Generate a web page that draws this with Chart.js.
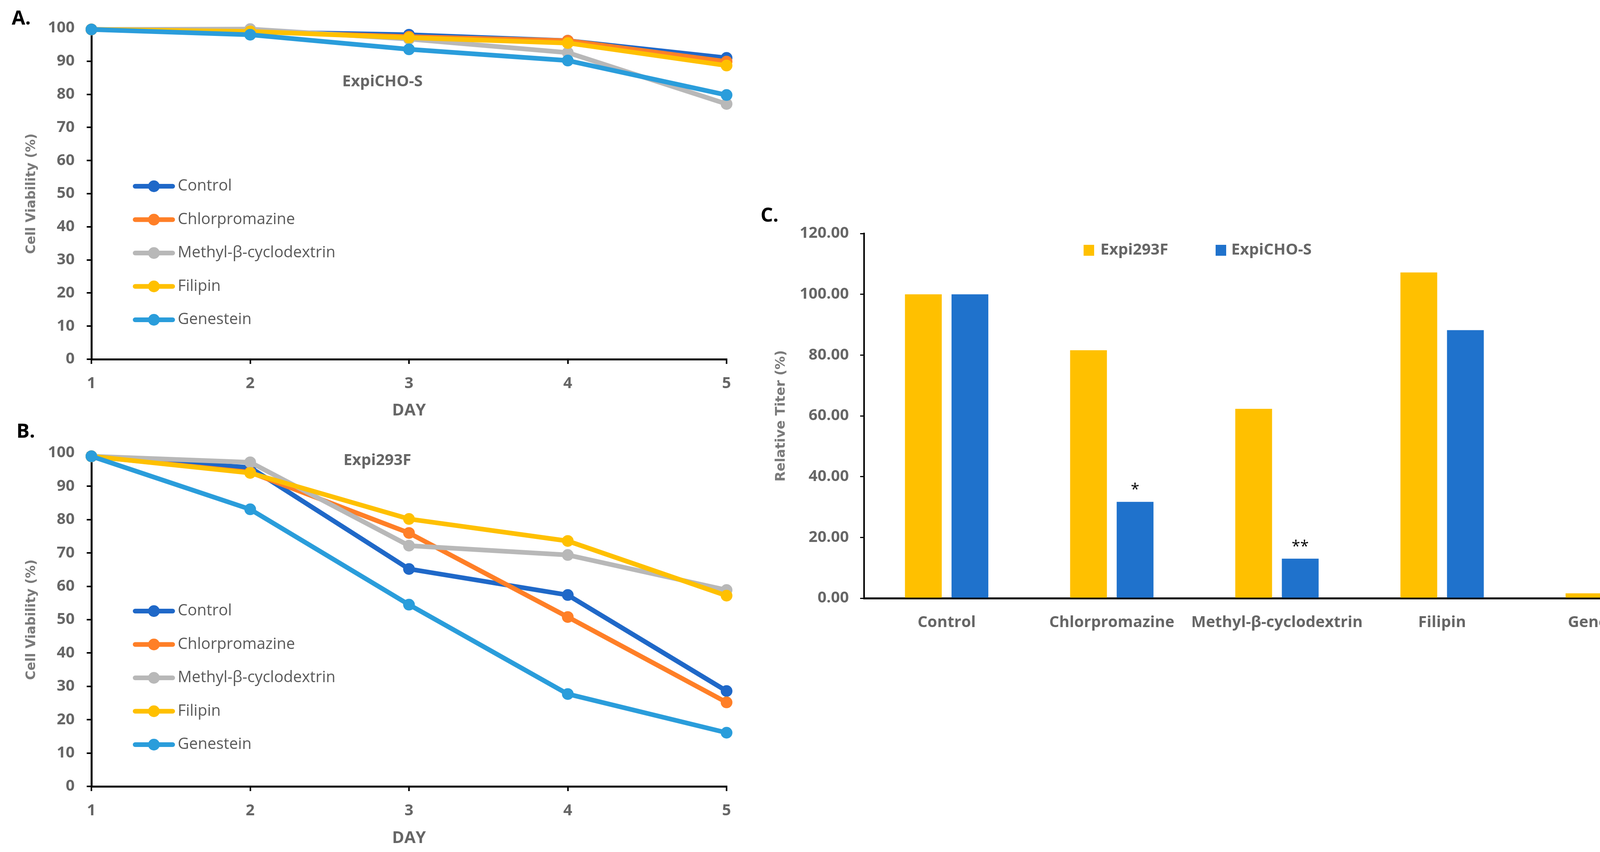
<!DOCTYPE html>
<html>
<head>
<meta charset="utf-8">
<script src="https://cdn.jsdelivr.net/npm/chart.js@4.4.7/dist/chart.umd.min.js"></script>
<style>
*{margin:0;padding:0;box-sizing:border-box}
body{width:4346px;height:2182px;background:#fff;position:relative;overflow:hidden;font-family:'Open Sans',sans-serif}
canvas{position:absolute}
.tag{position:absolute;font-weight:700;font-size:50px;line-height:1;color:#000}
</style>
</head>
<body>
<canvas id="cA" width="1900" height="1100" style="left:0;top:0;width:1900px;height:1100px"></canvas>
<canvas id="cB" width="1900" height="1092" style="left:0;top:1090px;width:1900px;height:1092px"></canvas>
<canvas id="cC" width="2446" height="1300" style="left:1900px;top:450px;width:2446px;height:1300px"></canvas>
<div class="tag" style="left:30px;top:19px">A.</div>
<div class="tag" style="left:42px;top:1077px">B.</div>
<div class="tag" style="left:1947px;top:524px">C.</div>
<script>
// ---- data ----
const days = ['1', '2', '3', '4', '5'];
const seriesNames = ['Control', 'Chlorpromazine', 'Methyl-β-cyclodextrin', 'Filipin', 'Genestein'];
const lineColors = ['#1F68C8', '#FF7F27', '#B8B8B8', '#FFC000', '#2A9DDB'];

// A. ExpiCHO-S viability (%)
const choControl = [99.6, 98.9, 98.0, 96.2, 91.0];
const choChlor   = [99.6, 99.0, 97.4, 96.2, 89.9];
const choMethyl  = [99.6, 99.7, 96.7, 92.6, 77.1];
const choFilipin = [99.6, 99.0, 97.1, 95.5, 88.7];
const choGen     = [99.6, 98.0, 93.6, 90.2, 79.8];

// B. Expi293F viability (%)
const hekControl = [99.0, 95.6, 65.2, 57.4, 28.6];
const hekChlor   = [99.0, 94.2, 76.0, 50.8, 25.2];
const hekMethyl  = [99.0, 97.2, 72.2, 69.4, 58.9];
const hekFilipin = [99.0, 94.0, 80.2, 73.6, 57.2];
const hekGen     = [99.0, 83.1, 54.5, 27.7, 16.1];

// C. relative titer (%)
const titerCats = ['Control', 'Chlorpromazine', 'Methyl-β-cyclodextrin', 'Filipin', 'Genestein'];
const titer293 = [100, 81.6, 62.3, 107.2, 1.6];
const titerCHO = [100, 31.7, 13.0, 88.2, 5.2];
const sigCHO = ['', '*', '**', '', ''];

const GRAY = '#666';
const tickFont = { family: 'Open Sans', weight: 'bold', size: 40 };
const yTitleFont = { family: 'DejaVu Sans', weight: 'bold', size: 33 };

// title + legend drawn inside the plot area of the line charts
const panelDecor = {
  id: 'panelDecor',
  afterDatasetsDraw(chart, args, opts) {
    const { ctx, chartArea: a } = chart;
    ctx.save();
    ctx.font = 'bold 40px "Open Sans"';
    ctx.fillStyle = GRAY;
    ctx.textAlign = 'center';
    ctx.textBaseline = 'middle';
    ctx.fillText(opts.title, a.left + opts.titleAt[0], a.top + opts.titleAt[1]);
    chart.data.datasets.forEach((ds, i) => {
      const y = a.top + 405 + i * 85.5;
      ctx.strokeStyle = ds.borderColor;
      ctx.lineWidth = 12;
      ctx.lineCap = 'round';
      ctx.beginPath(); ctx.moveTo(a.left + 112, y); ctx.lineTo(a.left + 208, y); ctx.stroke();
      ctx.fillStyle = ds.borderColor;
      ctx.beginPath(); ctx.arc(a.left + 160, y, 15, 0, Math.PI * 2); ctx.fill();
      ctx.fillStyle = '#595959';
      ctx.font = '40px "Open Sans"';
      ctx.textAlign = 'left';
      ctx.fillText(ds.label, a.left + 221, y);
    });
    ctx.restore();
  }
};

function lineChart(id, series, title, titleAt, padTop, xHeight, dayPad) {
  return new Chart(document.getElementById(id), {
    type: 'line',
    data: {
      labels: days,
      datasets: series.map((vals, i) => ({
        label: seriesNames[i],
        data: vals,
        borderColor: lineColors[i],
        backgroundColor: lineColors[i],
        pointBackgroundColor: lineColors[i],
        pointBorderColor: lineColors[i],
        borderWidth: 12,
        borderCapStyle: 'round',
        borderJoinStyle: 'round',
        pointRadius: 15,
        pointHoverRadius: 15,
        pointBorderWidth: 0,
        tension: 0,
        clip: false,
        order: 5 - i
      }))
    },
    options: {
      responsive: false,
      animation: false,
      devicePixelRatio: 1,
      layout: { padding: { top: padTop, right: 40, left: 0, bottom: 0 } },
      plugins: {
        legend: { display: false },
        tooltip: { enabled: false },
        panelDecor: { title, titleAt }
      },
      scales: {
        x: {
          type: 'category',
          offset: false,
          grid: { display: true, drawOnChartArea: false, drawTicks: true, tickLength: 12, color: '#000', lineWidth: 4 },
          border: { display: true, color: '#000', width: 5 },
          ticks: { font: tickFont, color: GRAY, padding: 27, maxRotation: 0 },
          title: { display: true, text: 'DAY', font: { family: 'Open Sans', weight: 'bold', size: 42 }, color: GRAY, padding: { top: 0, bottom: dayPad } },
          afterFit: s => { s.height = xHeight; }
        },
        y: {
          min: 0,
          max: 100,
          grid: { display: true, drawOnChartArea: false, drawTicks: true, tickLength: 12, color: '#000', lineWidth: 4 },
          border: { display: true, color: '#000', width: 5 },
          ticks: { stepSize: 10, font: tickFont, color: GRAY, padding: 31 },
          title: { display: true, text: 'Cell Viability (%)', font: yTitleFont, color: '#7a7a7a', padding: { top: 62, bottom: 0 } },
          afterFit: s => { s.width = 234; }
        }
      }
    },
    plugins: [panelDecor]
  });
}

lineChart('cA', [choControl, choChlor, choMethyl, choFilipin, choGen], 'ExpiCHO-S', [745, 138], 72, 180, 23);
lineChart('cB', [hekControl, hekChlor, hekMethyl, hekFilipin, hekGen], 'Expi293F', [732, 20], 70, 168, 10);

// legend + significance marks for the bar chart
const barDecor = {
  id: 'barDecor',
  afterDatasetsDraw(chart) {
    const { ctx, chartArea: a } = chart;
    ctx.save();
    const keys = [[562, 605], [900, 940]];
    chart.data.datasets.forEach((ds, i) => {
      ctx.fillStyle = ds.backgroundColor;
      ctx.fillRect(a.left + keys[i][0], a.top + 43 - 14, 27, 28);
      ctx.fillStyle = GRAY;
      ctx.font = 'bold 40px "Open Sans"';
      ctx.textAlign = 'left';
      ctx.textBaseline = 'middle';
      ctx.fillText(ds.label, a.left + keys[i][1], a.top + 43);
    });
    ctx.fillStyle = '#000';
    ctx.font = '40px "Open Sans"';
    ctx.textAlign = 'center';
    ctx.textBaseline = 'alphabetic';
    chart.getDatasetMeta(1).data.forEach((bar, i) => {
      if (sigCHO[i]) ctx.fillText(sigCHO[i], bar.x, bar.y - 18);
    });
    ctx.restore();
  }
};

new Chart(document.getElementById('cC'), {
  type: 'bar',
  data: {
    labels: titerCats,
    datasets: [
      { label: 'Expi293F', data: titer293, backgroundColor: '#FFC000', categoryPercentage: 0.564, barPercentage: 0.79 },
      { label: 'ExpiCHO-S', data: titerCHO, backgroundColor: '#1F72CC', categoryPercentage: 0.564, barPercentage: 0.79 }
    ]
  },
  options: {
    responsive: false,
    animation: false,
    devicePixelRatio: 1,
    layout: { padding: { top: 148, right: 20, left: 0, bottom: 0 } },
    plugins: { legend: { display: false }, tooltip: { enabled: false } },
    scales: {
      x: {
        grid: { display: false, drawTicks: false },
        border: { display: true, color: '#000', width: 5 },
        ticks: { font: tickFont, color: GRAY, padding: 39, maxRotation: 0, autoSkip: false },
        afterFit: s => { s.height = 218; }
      },
      y: {
        min: 0,
        max: 120,
        grid: { display: true, drawOnChartArea: false, drawTicks: true, tickLength: 10, color: '#000', lineWidth: 3 },
        border: { display: true, color: '#000', width: 4 },
        ticks: { stepSize: 20, font: tickFont, color: GRAY, padding: 29, callback: v => v.toFixed(2) },
        title: { display: true, text: 'Relative Titer (%)', font: { family: 'DejaVu Sans', weight: 'bold', size: 34 }, color: '#7a7a7a', padding: { top: 80, bottom: 0 } },
        afterFit: s => { s.width = 312; }
      }
    }
  },
  plugins: [barDecor]
});
</script>
</body>
</html>
